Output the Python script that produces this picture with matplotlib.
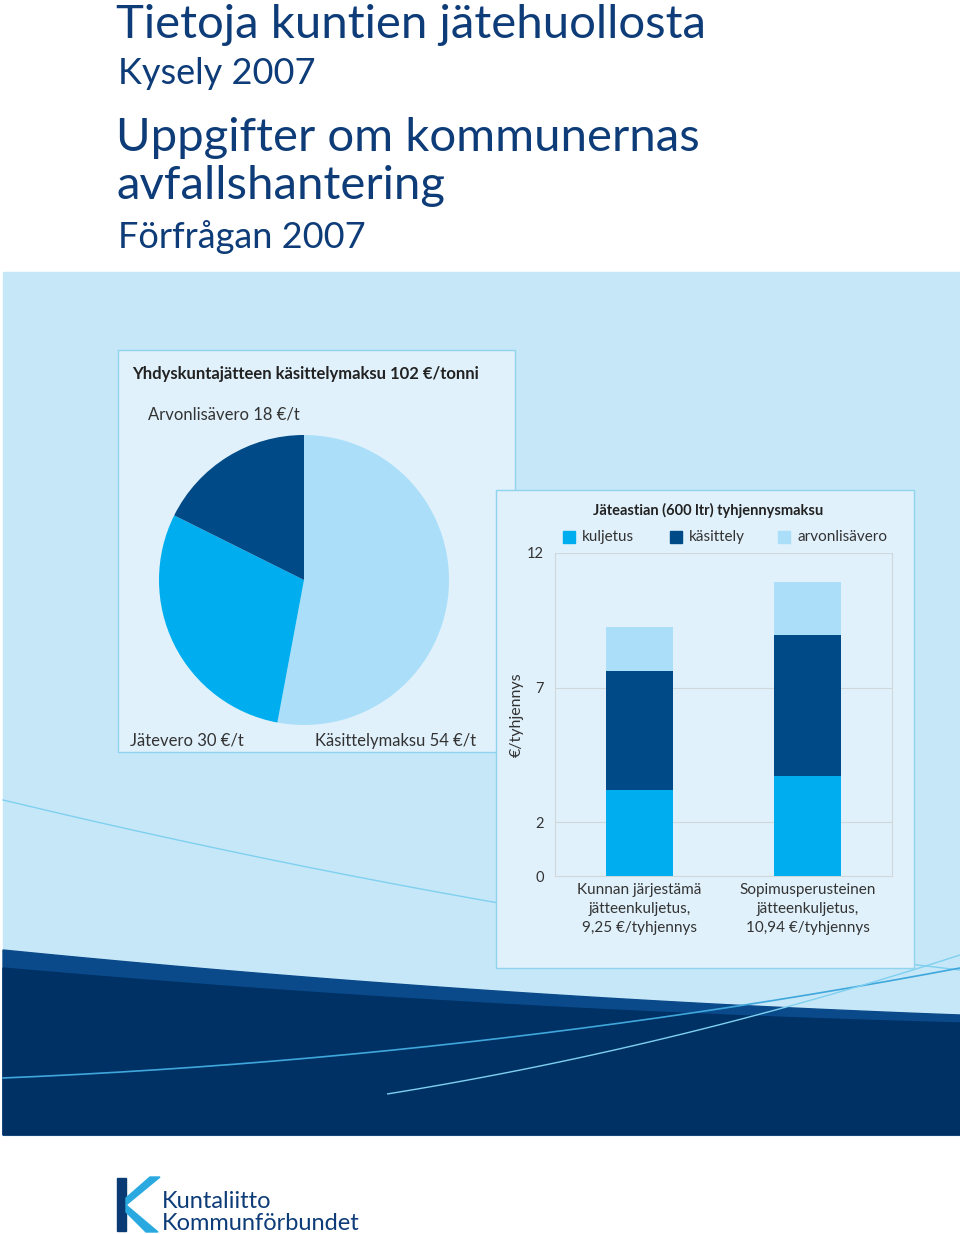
import numpy as np
import matplotlib.pyplot as plt
from matplotlib.patches import Rectangle, Polygon
from matplotlib import rcParams

rcParams['font.family'] = 'Lato'

NAVY = '#0d3c78'
KUL = '#00aeef'
KAS = '#004a87'
ALV = '#abdff9'

# pie data
pie_labels = ['Käsittelymaksu', 'Jätevero', 'Arvonlisävero']
pie_values = [54, 30, 18]
pie_colors = [ALV, KUL, KAS]

# bar data
bar_cats = ['Kunnan järjestämä\njätteenkuljetus,\n9,25 €/tyhjennys',
            'Sopimusperusteinen\njätteenkuljetus,\n10,94 €/tyhjennys']
kuljetus = [3.2, 3.7]
kasittely = [4.4, 5.27]
arvonlisavero = [1.65, 1.97]
yticks = [0, 2, 7, 12]

W, H = 960, 1234
fig = plt.figure(figsize=(9.6, 12.34), dpi=100)
bg = fig.add_axes([0, 0, 1, 1])
bg.set_xlim(0, W)
bg.set_ylim(H, 0)
bg.axis('off')

# ── background panel and waves ──
bg.add_patch(Rectangle((3, 272), 957, 863, color='#c6e7f8', zorder=0))
xs = np.linspace(3, 960, 200)
t = (xs - 3) / 957
curve_mid = 950 + 95 * t - 30 * t ** 2
curve_nav = 968 + 85 * t - 30 * t ** 2
bg.add_patch(Polygon(list(zip(xs, curve_mid)) + [(960, 1135), (3, 1135)],
                     closed=True, color='#0a4a8a', zorder=1))
bg.add_patch(Polygon(list(zip(xs, curve_nav)) + [(960, 1135), (3, 1135)],
                     closed=True, color='#003165', zorder=1))
bg.plot(xs, 800 + 230 * t - 60 * t ** 2, color='#7fd0f0', lw=1, zorder=1)
bg.plot(xs, 1078 - 40 * t - 70 * t ** 2, color='#3fa7dc', lw=1.2, zorder=2)
bg.plot(xs[80:], 1135 - 50 * t[80:] - 130 * t[80:] ** 2, color='#7fd0f0', lw=1, zorder=2)

# ── titles ──
bg.text(116, 25, 'Tietoja kuntien jätehuollosta', fontsize=34, color=NAVY, va='center')
bg.text(118, 73, 'Kysely 2007', fontsize=26, color=NAVY, va='center')
bg.text(116, 138, 'Uppgifter om kommunernas', fontsize=34, color=NAVY, va='center')
bg.text(116, 186, 'avfallshantering', fontsize=34, color=NAVY, va='center')
bg.text(118, 237, 'Förfrågan 2007', fontsize=26, color=NAVY, va='center')

# ── boxes ──
bg.add_patch(Rectangle((118, 350), 397, 402, facecolor='#e0f1fb', edgecolor='#8fd3ef', lw=1, zorder=3))
bg.add_patch(Rectangle((496, 490), 418, 478, facecolor='#e0f1fb', edgecolor='#8fd3ef', lw=1, zorder=4))

bg.text(132, 374, 'Yhdyskuntajätteen käsittelymaksu 102 €/tonni', fontsize=12,
        color='#222222', va='center', fontweight='bold', zorder=5)
bg.text(148, 414, 'Arvonlisävero 18 €/t', fontsize=12, color='#333333', va='center', zorder=5)
bg.text(130, 741, 'Jätevero 30 €/t', fontsize=12, color='#333333', va='center', zorder=5)
bg.text(315, 741, 'Käsittelymaksu 54 €/t', fontsize=12, color='#333333', va='center', zorder=5)

# ── pie ──
cx, cy, r = 304, 580, 145
pax = fig.add_axes([(cx - r) / W, (H - cy - r) / H, 2 * r / W, 2 * r / H])
pax.pie(pie_values, colors=pie_colors, startangle=90, counterclock=False,
        wedgeprops=dict(edgecolor='none'))
pax.set_xlim(-1, 1)
pax.set_ylim(-1, 1)
pax.set_zorder(6)

# ── stacked bars ──
x0, x1, ybot, ytop = 555, 892, 876, 553
bax = fig.add_axes([x0 / W, (H - ybot) / H, (x1 - x0) / W, (ybot - ytop) / H])
bax.set_zorder(7)
bax.patch.set_alpha(0)
x = np.arange(len(bar_cats))
w = 0.4
bax.bar(x, kuljetus, w, color=KUL, zorder=3)
bax.bar(x, kasittely, w, bottom=kuljetus, color=KAS, zorder=3)
bax.bar(x, arvonlisavero, w, bottom=np.add(kuljetus, kasittely), color=ALV, zorder=3)
bax.set_xlim(-0.5, 1.5)
bax.set_ylim(0, 12)
bax.set_yticks(yticks)
bax.set_yticklabels([str(v) for v in yticks], fontsize=10.5, color='#333333')
bax.set_xticks(x)
bax.set_xticklabels(bar_cats, fontsize=11, color='#333333', linespacing=1.45)
bax.tick_params(length=0, pad=5)
bax.tick_params(axis='y', pad=8)
for v in yticks[1:]:
    bax.axhline(v, color='#d0d8dc', lw=0.8, zorder=1)
for s in bax.spines.values():
    s.set_color('#d0d8dc')
    s.set_linewidth(0.8)
bax.spines['top'].set_visible(False)
bax.set_ylabel('€/tyhjennys', fontsize=11.5, color='#333333', labelpad=2)

bg.text(708, 510, 'Jäteastian (600 ltr) tyhjennysmaksu', fontsize=10.5, color='#222222',
        ha='center', va='center', fontweight='bold', zorder=8)
for lx, lab, col in [(563, 'kuljetus', KUL), (670, 'käsittely', KAS), (778, 'arvonlisävero', ALV)]:
    bg.add_patch(Rectangle((lx, 531), 12, 12, color=col, zorder=8))
    bg.text(lx + 19, 537, lab, fontsize=11, color='#333333', va='center', zorder=8)

# ── logo ──
bg.add_patch(Rectangle((117, 1178), 9, 53, color='#0a3a73', zorder=5))
bg.add_patch(Polygon([(126, 1205), (160, 1177), (150, 1177), (126, 1198)],
                     closed=True, color='#29a9e0', zorder=5))
bg.add_patch(Polygon([(126, 1205), (158, 1232), (146, 1232), (126, 1212)],
                     closed=True, color='#29a9e0', zorder=5))
bg.text(162, 1201, 'Kuntaliitto', fontsize=17, color=NAVY, va='center')
bg.text(162, 1223, 'Kommunförbundet', fontsize=17, color=NAVY, va='center')

fig.savefig('out.png', dpi=100)
